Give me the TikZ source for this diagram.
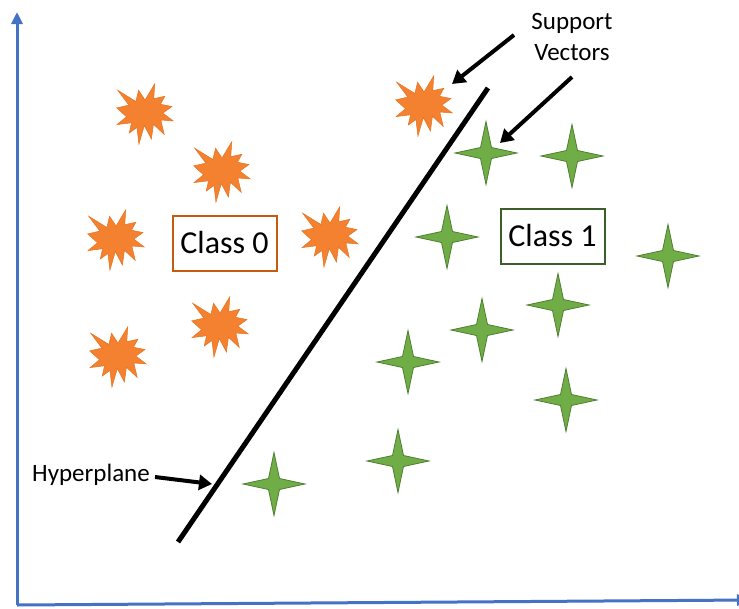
\documentclass[tikz,border=0pt]{standalone}
\usepackage{fontspec}
\setmainfont{Carlito}
\usetikzlibrary{arrows.meta}
\definecolor{axisblue}{HTML}{4472C4}
\definecolor{orfill}{HTML}{F4812F}
\definecolor{oredge}{HTML}{E8731E}
\definecolor{grfill}{HTML}{70AD47}
\definecolor{gredge}{HTML}{4E7F30}
\definecolor{brownbox}{HTML}{C55A11}
\definecolor{greenbox}{HTML}{3B5E2B}
\tikzset{
  boom/.pic={
    \fill[orfill, draw=oredge, line width=0.5pt, xscale=0.262, yscale=0.28]
      (0,-50) -- (37.22,-108) -- (33.55,-54.75) -- (75.8,-63.43) -- (59.02,-34.85)
      -- (102.97,-26.63) -- (68.07,-3.25) -- (108,24.9) -- (60.37,21.42)
      -- (73.45,72.95) -- (32.2,36.57) -- (24.47,89.37) -- (-2.68,41.35)
      -- (-23.15,108) -- (-30.85,48.27) -- (-60.38,68.17) -- (-51.33,31.37)
      -- (-106.65,37.87) -- (-70.78,9.75) -- (-108,-21.85) -- (-61.73,-31.83)
      -- (-104.3,-85.05) -- (-34.88,-44.8) -- (-24.48,-85.05) -- cycle;
  },
  sparkle/.pic={
    \fill[grfill, draw=gredge, line width=0.8pt]
      (0,-31.5) -- (5.5,-5.5) -- (31,0) -- (5.5,5.5) -- (0,31.5)
      -- (-5.5,5.5) -- (-31,0) -- (-5.5,-5.5) -- cycle;
  },
  axisline/.style={axisblue, line width=3pt, -{Triangle[length=12pt,width=11pt]}},
  pointer/.style={black, line width=4pt, -{Triangle[length=13pt,width=15pt]}},
  classbox/.style={draw, line width=2pt, minimum width=104pt, minimum height=55pt,
    inner sep=0pt, font=\fontsize{32}{38}\selectfont},
  lbl/.style={font=\fontsize{25}{31}\selectfont, inner sep=0pt, align=center}
}
\begin{document}
\begin{tikzpicture}[x=1pt,y=-1pt]
\useasboundingbox (0,0) rectangle (739,608);
% axes
\coordinate (origin) at (17,605);
\coordinate (ytop) at (17,12);
\coordinate (xend) at (749,600);
\draw[axisline] (origin) -- (ytop);
\draw[axisline] (origin) -- (xend);
% class 0 points
\pic at (145,114) {boom};
\pic at (222,172) {boom};
\pic at (116,240) {boom};
\pic at (330,237) {boom};
\pic at (220,327) {boom};
\pic at (118,357) {boom};
\pic at (424,106) {boom};
% class 1 points
\pic at (486,153) {sparkle};
\pic at (572,156) {sparkle};
\pic at (447,237) {sparkle};
\pic at (668,256) {sparkle};
\pic at (558,305) {sparkle};
\pic at (482,330) {sparkle};
\pic at (408,362) {sparkle};
\pic at (566,400) {sparkle};
\pic at (398,461) {sparkle};
\pic at (274,484) {sparkle};
% hyperplane
\coordinate (hpA) at (178,542);
\coordinate (hpB) at (488,88);
\draw[black, line width=5pt] (hpA) -- (hpB);
% class boxes
\node[classbox, draw=brownbox] (c0) at (224.5,243) {Class 0};
\node[classbox, draw=greenbox] (c1) at (552.5,236) {Class 1};
% labels
\node[lbl, anchor=base west] (hyp) at (32,481) {Hyperplane};
\coordinate (hypS) at (155,477);
\coordinate (hypT) at (212,484);
\draw[pointer] (hypS) -- (hypT);
\node[lbl] (sv) at (572,37) {Support\\Vectors};
\coordinate (sv1S) at (514,35);
\coordinate (sv1T) at (452,84);
\coordinate (sv2S) at (572,77);
\coordinate (sv2T) at (500,143);
\draw[pointer] (sv1S) -- (sv1T);
\draw[pointer] (sv2S) -- (sv2T);
\end{tikzpicture}
\end{document}
